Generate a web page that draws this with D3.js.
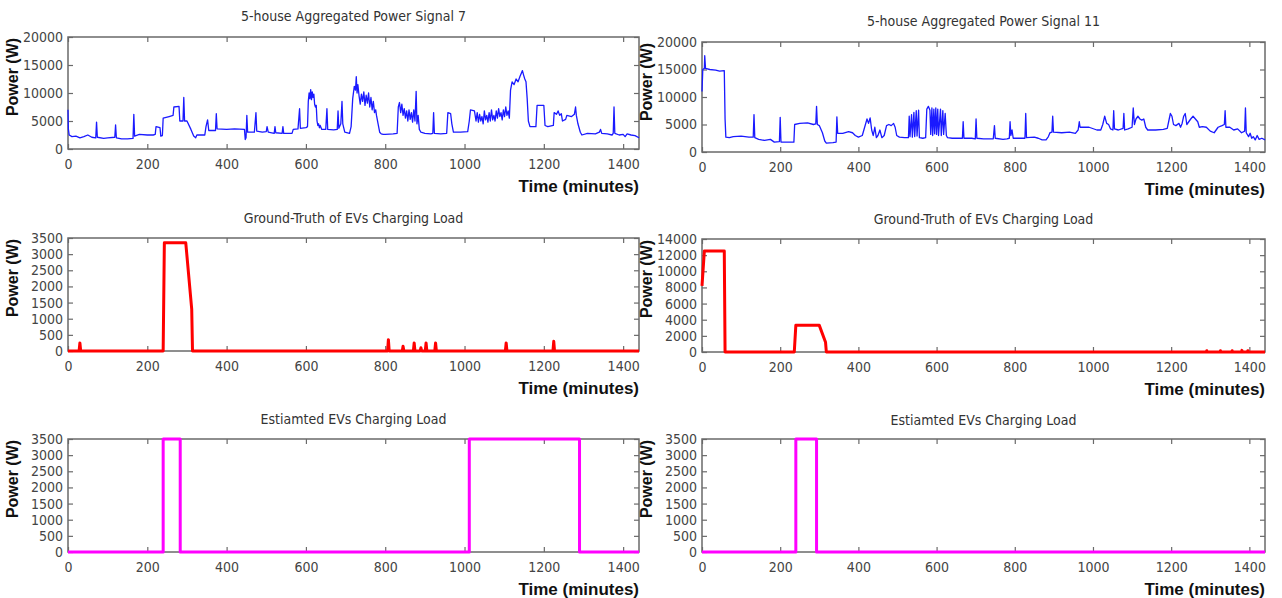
<!DOCTYPE html>
<html>
<head>
<meta charset="utf-8">
<script src="https://cdn.jsdelivr.net/npm/d3@7/dist/d3.min.js"></script>
<style>
  html, body { margin: 0; padding: 0; background: #ffffff; }
  svg { display: block; }
  .tick text { font-family: "Liberation Sans Narrow", "DejaVu Sans Condensed", "Liberation Sans", sans-serif; font-size: 14px; fill: #444; }
  .ptitle { font-family: "Liberation Sans Narrow", "DejaVu Sans Condensed", "Liberation Sans", sans-serif; font-size: 14px; fill: #333; }
  .alabel { font-family: "Liberation Sans", Arial, sans-serif; font-weight: bold; fill: #111; }
</style>
</head>
<body>
<svg id="chart" width="1282" height="598"></svg>
<script>
// ---- shared axis ticks ----
const timeTicks = [0, 200, 400, 600, 800, 1000, 1200, 1400];
const aggTicks = [0, 5000, 10000, 15000, 20000];
const evTicksSmall = [0, 500, 1000, 1500, 2000, 2500, 3000, 3500];
const evTicksLarge = [0, 2000, 4000, 6000, 8000, 10000, 12000, 14000];

// ---- 5-house aggregated power, signal 7 (minute, watts) ----
const sig7Time = [0,1,3,10,20,30,40,50,60,70,72,74,90,100,118,120,122,135,150,164,166,168,180,200,215,220,222,232,234,238,240,255,265,267,280,282,290,292,294,300,310,317,322,325,345,348,352,355,372,374,376,400,420,445,447,449,451,453,470,474,476,490,500,502,505,520,522,524,540,542,544,565,568,580,584,586,600,604,606,608,610,612,614,616,618,620,622,624,626,628,630,632,634,636,640,650,653,655,670,679,681,683,688,691,693,698,710,714,718,722,725,727,729,731,734,737,740,743,746,749,752,755,758,761,764,767,770,773,776,778,782,786,790,795,800,820,830,833,836,839,842,845,848,851,854,857,860,863,866,869,872,875,878,880,883,886,890,900,915,920,922,924,940,955,958,965,968,972,990,1008,1012,1015,1025,1029,1032,1035,1038,1041,1044,1047,1050,1053,1056,1059,1062,1065,1068,1071,1074,1077,1080,1083,1086,1089,1092,1095,1098,1101,1104,1107,1110,1113,1116,1120,1125,1130,1135,1140,1143,1146,1149,1152,1155,1158,1161,1165,1180,1183,1200,1203,1210,1224,1226,1232,1236,1240,1244,1247,1255,1258,1270,1277,1280,1282,1286,1292,1296,1310,1330,1340,1343,1346,1360,1372,1375,1377,1379,1390,1400,1405,1410,1420,1430,1440];
const sig7Power = [7000,3500,2500,2200,2300,2000,2200,2500,2100,2000,4800,2100,1900,2000,2100,4300,2000,1800,1800,1900,6200,2300,2600,2500,2500,2600,4000,3800,2300,2400,5500,5800,6000,7500,7600,5000,5000,9200,5000,5000,3500,2300,2000,2500,2500,4000,5200,3300,3300,6300,3600,3500,3600,3500,1700,2000,6000,3000,3000,6500,3200,3000,3100,4000,3000,2800,4000,2900,2800,4000,2800,2800,3500,3600,7200,3700,3800,4000,8500,10000,9000,10600,8800,10200,9200,9800,8000,7500,7800,5000,4200,4500,3800,4200,3500,3500,7200,3500,3400,3500,6800,3700,4500,8500,4500,3000,2800,4000,9000,11200,10500,12900,10000,11500,9500,8000,9800,8500,10200,7800,9600,8200,10000,7500,9200,7000,8500,6500,7000,6000,4500,3000,2700,2600,2600,2700,2800,7500,8300,6500,8000,6000,7200,5500,6800,5000,7000,5300,6500,4800,7000,5000,10300,4500,6000,3500,3000,2800,2700,2800,6500,2800,2700,2800,6500,6300,4500,3000,3000,3100,5000,7000,6800,5000,6500,4800,6200,5000,5800,4500,6800,5200,6000,4800,6500,5000,7000,5200,6000,5000,6800,5500,7200,5800,6500,5200,7000,5800,7500,6000,6800,5500,10500,12000,11500,12500,12000,13000,13500,14000,13200,12500,12000,9000,5000,4000,4000,7800,7800,4200,4000,4200,6500,6200,6800,6000,6300,5000,5300,6000,5800,6200,7500,6000,4500,3000,2500,2800,2700,3000,3500,2800,2700,2500,2800,7500,2800,2500,2600,2200,2700,2500,2400,2000];

// ---- 5-house aggregated power, signal 11 (minute, watts) ----
const sig11Time = [0,2,6,7,9,20,35,45,57,59,61,70,80,100,120,131,133,135,145,160,175,185,198,200,202,220,235,237,250,270,285,291,293,295,300,308,314,318,335,343,345,347,360,375,385,392,400,410,418,422,426,430,434,438,442,446,450,455,460,466,472,478,484,490,494,498,505,518,528,530,532,536,538,542,544,548,550,554,556,565,572,575,579,583,585,588,590,593,595,598,600,603,605,610,612,616,618,622,625,628,640,660,666,668,670,690,699,701,703,720,745,748,750,770,780,786,788,790,793,796,810,826,828,830,850,860,870,880,886,890,895,897,899,920,940,955,962,965,967,990,1010,1020,1025,1030,1035,1040,1045,1051,1053,1055,1065,1077,1079,1081,1090,1100,1103,1106,1110,1115,1120,1125,1130,1135,1140,1160,1180,1190,1195,1198,1202,1206,1212,1220,1224,1228,1232,1236,1240,1245,1250,1256,1262,1268,1272,1280,1290,1300,1310,1320,1330,1336,1338,1340,1350,1360,1370,1380,1388,1390,1392,1398,1402,1406,1410,1415,1420,1425,1432,1440];
const sig11Power = [11000,15000,15200,17500,15200,15000,14900,14700,14800,6000,2700,2600,2800,2900,2700,2700,6800,2600,2300,2100,2300,1800,1900,6300,1800,1800,1800,5000,5200,5300,5000,5100,8300,5000,4800,3500,2000,1600,1700,1800,6400,3400,3400,3700,3500,3000,2700,3000,5000,6000,5200,6200,4000,3000,4500,2600,3000,4000,2600,3000,4800,5000,4800,5200,4500,3000,2700,2600,2600,6500,2800,6800,2700,7200,2800,7500,2900,7600,2600,2500,2600,7800,8300,7600,3200,8000,3000,7800,3300,8000,3200,7800,3000,7800,3000,7500,3200,7000,3000,2600,2500,2500,2500,5500,2500,2500,2400,6000,2500,2400,2400,4800,2500,2300,2400,2500,5500,3000,4000,2500,2500,2500,7000,2600,2700,2500,2200,2200,2800,3500,3600,6500,3600,3500,3600,3400,4000,5500,4500,4500,4000,4000,5000,6500,5200,5000,4200,4000,7500,4200,4000,4300,7000,4000,4200,4500,8000,5000,6000,6500,6000,5800,6000,4500,4000,4000,4100,4300,6000,7000,6500,5000,4800,5200,4500,5200,6500,7000,5000,5500,6000,6500,6000,5500,4500,4600,4500,3800,3500,4500,4800,5000,7500,4500,4500,4000,4200,3500,3800,8000,3500,2800,3400,2500,2800,2200,3000,2300,2500,2200];

// ---- ground-truth EV charging load ----
const truth7Time = [0,28,30,32,240,243,297,312,314,806,808,810,843,845,847,871,873,875,888,890,892,901,903,905,925,927,929,1103,1105,1107,1223,1225,1227,1440];
const truth7Power = [0,0,250,0,0,3350,3350,1300,0,0,350,0,0,150,0,0,250,0,0,100,0,0,250,0,0,250,0,0,250,0,0,300,0,0];
const truth11Time = [0,6,57,59,236,240,300,316,318,1290,1291,1292,1325,1326,1327,1355,1356,1357,1380,1381,1382,1395,1396,1397,1440];
const truth11Power = [8200,12500,12500,0,0,3300,3300,1200,0,0,150,0,0,150,0,0,150,0,0,200,0,0,150,0,0];

// ---- estimated EV charging load ----
const est7Time = [0,240,240,283,283,1012,1012,1290,1290,1440];
const est7Power = [0,0,3500,3500,0,0,3500,3500,0,0];
const est11Time = [0,240,240,293,293,1440];
const est11Power = [0,0,3500,3500,0,0];

const svg = d3.select("#chart");

const panels = [
  { title: "5-house Aggregated Power Signal 7", x0: 68, x1: 639, y0: 37, y1: 149, yMax: 20000, yTicks: aggTicks, t: sig7Time, v: sig7Power, color: "#1a1aff", width: 1.3, titleY: 21 },
  { title: "5-house Aggregated Power Signal 11", x0: 702, x1: 1265, y0: 42, y1: 152, yMax: 20000, yTicks: aggTicks, t: sig11Time, v: sig11Power, color: "#1a1aff", width: 1.3, titleY: 26 },
  { title: "Ground-Truth of EVs Charging Load", x0: 68, x1: 639, y0: 238, y1: 351, yMax: 3500, yTicks: evTicksSmall, t: truth7Time, v: truth7Power, color: "#ff0000", width: 3, titleY: 223 },
  { title: "Ground-Truth of EVs Charging Load", x0: 702, x1: 1265, y0: 239, y1: 352, yMax: 14000, yTicks: evTicksLarge, t: truth11Time, v: truth11Power, color: "#ff0000", width: 3, titleY: 224 },
  { title: "Estiamted EVs Charging Load", x0: 68, x1: 639, y0: 439, y1: 552, yMax: 3500, yTicks: evTicksSmall, t: est7Time, v: est7Power, color: "#ff00ff", width: 3, titleY: 424 },
  { title: "Estiamted EVs Charging Load", x0: 702, x1: 1265, y0: 439, y1: 552, yMax: 3500, yTicks: evTicksSmall, t: est11Time, v: est11Power, color: "#ff00ff", width: 3, titleY: 425 }
];

const frameColor = "#6a6a6a";

panels.forEach(p => {
  const x = d3.scaleLinear().domain([0, 1440]).range([p.x0, p.x1]);
  const y = d3.scaleLinear().domain([0, p.yMax]).range([p.y1, p.y0]);
  const g = svg.append("g");

  // inward ticks on all four sides
  const styleAxis = sel => {
    sel.select(".domain").remove();
    sel.selectAll(".tick line").attr("stroke", frameColor).attr("stroke-width", 1.2);
  };
  g.append("g").attr("transform", `translate(0,${p.y1})`)
    .call(d3.axisBottom(x).tickValues(timeTicks).tickSizeInner(-5).tickSizeOuter(0).tickPadding(10).tickFormat(d3.format("d")))
    .call(styleAxis);
  g.append("g").attr("transform", `translate(0,${p.y0})`)
    .call(d3.axisTop(x).tickValues(timeTicks).tickSizeInner(-5).tickSizeOuter(0).tickFormat(""))
    .call(styleAxis);
  g.append("g").attr("transform", `translate(${p.x0},0)`)
    .call(d3.axisLeft(y).tickValues(p.yTicks).tickSizeInner(-5).tickSizeOuter(0).tickPadding(5).tickFormat(d3.format("d")))
    .call(styleAxis);
  g.append("g").attr("transform", `translate(${p.x1},0)`)
    .call(d3.axisRight(y).tickValues(p.yTicks).tickSizeInner(-5).tickSizeOuter(0).tickFormat(""))
    .call(styleAxis);

  // plot frame
  g.append("rect")
    .attr("x", p.x0).attr("y", p.y0)
    .attr("width", p.x1 - p.x0).attr("height", p.y1 - p.y0)
    .attr("fill", "none").attr("stroke", frameColor).attr("stroke-width", 1.5);

  // data trace
  const pts = p.t.map((tv, i) => [tv, p.v[i]]);
  g.append("path")
    .datum(pts)
    .attr("fill", "none")
    .attr("stroke", p.color)
    .attr("stroke-width", p.width)
    .attr("stroke-linejoin", "round")
    .attr("d", d3.line().x(d => x(d[0])).y(d => y(d[1])));

  // title
  g.append("text").attr("class", "ptitle")
    .attr("x", (p.x0 + p.x1) / 2).attr("y", p.titleY)
    .attr("text-anchor", "middle").text(p.title);

  // axis labels
  g.append("text").attr("class", "alabel")
    .attr("transform", `translate(${p.x0 - 50},${p.y0 + 40}) rotate(-90)`)
    .attr("text-anchor", "middle").attr("font-size", 16).text("Power (W)");
  g.append("text").attr("class", "alabel")
    .attr("x", p.x1).attr("y", p.y1 + 43)
    .attr("text-anchor", "end").attr("font-size", 17).text("Time (minutes)");
});
</script>
</body>
</html>
